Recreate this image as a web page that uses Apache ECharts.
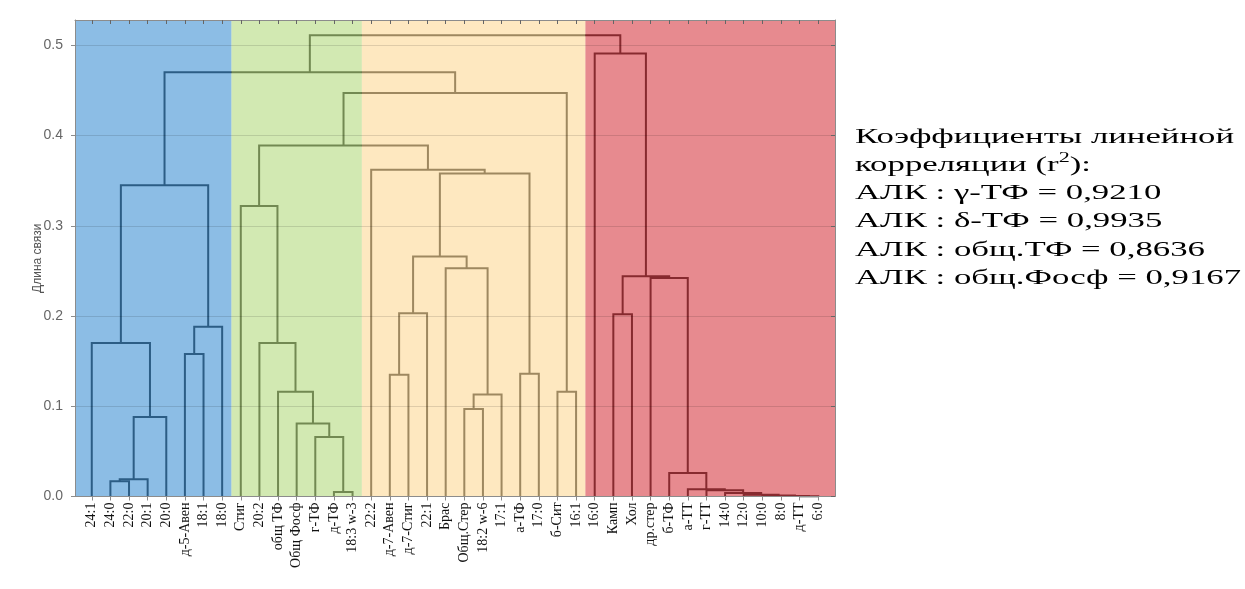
<!DOCTYPE html>
<html><head><meta charset="utf-8">
<script src="https://cdn.jsdelivr.net/npm/echarts@6/dist/echarts.min.js"></script>
<style>html,body{margin:0;padding:0;background:#fff}#c{width:1245px;height:589px}</style>
</head><body><div id="c"></div>
<script>
// ---- data ----
const leaves = ['24:1','24:0','22:0','20:1','20:0','д-5-Авен','18:1','18:0',
  'Стиг','20:2','общ ТФ','Общ Фосф','г-ТФ','д-ТФ','18:3 w-3',
  '22:2','д-7-Авен','д-7-Стиг','22:1','Брас','Общ.Стер','18:2 w-6','17:1','а-ТФ','17:0','б-Сит','16:1',
  '16:0','Камп','Хол','др.стер','б-ТФ','а-ТТ','г-ТТ','14:0','12:0','10:0','8:0','д-ТТ','6:0'];
const groupSizes = [8, 7, 12, 13];
const groupColors = ['rgb(45,135,208)', 'rgb(173,215,115)', 'rgb(253,213,140)', 'rgb(211,42,51)'];
// merge k creates node id leaves.length + k
const mergeLeft  = [13, 12, 11, 10,  9,  8,  1, 46, 47,  0,  5, 50, 49, 16, 53, 20, 55, 19, 54, 23, 58, 15, 45, 25, 62, 52, 38, 37, 36, 35, 34, 33, 32, 31, 30, 28, 75, 27, 65];
const mergeRight = [14, 40, 41, 42, 43, 44,  2,  3,  4, 48,  6,  7, 51, 17, 18, 21, 22, 56, 57, 24, 59, 60, 61, 26, 63, 64, 39, 66, 67, 68, 69, 70, 71, 72, 73, 29, 74, 76, 77];
const mergeHeight = [0.005, 0.066, 0.081, 0.116, 0.170, 0.322, 0.017, 0.019, 0.088, 0.170, 0.158, 0.188, 0.345,
  0.135, 0.203, 0.097, 0.113, 0.253, 0.266, 0.136, 0.358, 0.362, 0.389, 0.116, 0.447, 0.470,
  0.0003, 0.0005, 0.001, 0.002, 0.004, 0.007, 0.008, 0.026, 0.242, 0.202, 0.244, 0.491, 0.511];
const yTicks = [0, 0.1, 0.2, 0.3, 0.4, 0.5];
const yMax = 0.528;
const noteLines = ['Коэффициенты линейной', 'корреляции (r{sup|2}):', 'АЛК : γ-ТФ = 0,9210',
  'АЛК : δ-ТФ = 0,9935', 'АЛК : общ.ТФ = 0,8636', 'АЛК : общ.Фосф = 0,9167'];

// ---- layout of tree (midpoint convention) ----
const n = leaves.length;
const pos = leaves.map((_, i) => i);
const hgt = leaves.map(() => 0);
const links = [];
for (let k = 0; k < mergeLeft.length; k++) {
  const a = mergeLeft[k], b = mergeRight[k], h = mergeHeight[k];
  links.push([pos[a], hgt[a], pos[b], hgt[b], h]);
  pos.push((pos[a] + pos[b]) / 2);
  hgt.push(h);
}
const xMin = -0.9, xMax = n - 1 + 0.9;
const regions = [];
let acc = 0;
groupSizes.forEach((s, i) => {
  const x0 = i === 0 ? xMin : acc - 0.5;
  acc += s;
  const x1 = i === groupSizes.length - 1 ? xMax : acc - 0.5;
  regions.push([x0, x1, i]);
});
const leafIdx = leaves.map((_, i) => i);

const chart = echarts.init(document.getElementById('c'), null, {renderer: 'canvas'});
const axisGray = '#8c8c8c';
chart.setOption({
  animation: false,
  backgroundColor: '#fff',
  grid: {left: 75, right: 410, top: 20, bottom: 92.5, containLabel: false},
  xAxis: [{
    type: 'value', min: xMin, max: xMax, position: 'bottom', z: 5,
    axisLine: {show: true, onZero: false, lineStyle: {color: axisGray, width: 1}},
    axisTick: {show: true, customValues: leafIdx, length: 4, lineStyle: {color: axisGray}},
    axisLabel: {show: true, customValues: leafIdx, rotate: 90, margin: 6,
      fontFamily: 'Liberation Serif', fontSize: 14, color: '#111',
      formatter: v => leaves[Math.round(v)] || ''},
    splitLine: {show: false}
  }, {
    type: 'value', min: xMin, max: xMax, position: 'top', z: 5,
    axisLine: {show: true, onZero: false, lineStyle: {color: axisGray, width: 1}},
    axisTick: {show: true, inside: true, customValues: leafIdx, length: 4, lineStyle: {color: '#666'}},
    axisLabel: {show: false}, splitLine: {show: false}
  }],
  yAxis: [{
    type: 'value', min: 0, max: yMax, interval: 0.1, position: 'left', z: 5,
    name: 'Длина связи', nameLocation: 'middle', nameGap: 31, nameMoveOverlap: false,
    nameTextStyle: {fontFamily: 'Liberation Sans', fontSize: 12, color: '#555'},
    axisLine: {show: true, onZero: false, lineStyle: {color: axisGray, width: 1}},
    axisTick: {show: true, customValues: yTicks, length: 4, lineStyle: {color: axisGray}},
    axisLabel: {customValues: yTicks, margin: 12, fontFamily: 'Liberation Sans', fontSize: 14, color: '#666',
      formatter: v => v.toFixed(1)},
    splitLine: {show: true, lineStyle: {color: 'rgba(0,0,0,0.12)', width: 1}}
  }, {
    type: 'value', min: 0, max: yMax, interval: 0.1, position: 'right', z: 5,
    axisLine: {show: true, onZero: false, lineStyle: {color: axisGray, width: 1}},
    axisTick: {show: true, inside: true, customValues: yTicks, length: 4, lineStyle: {color: '#666'}},
    axisLabel: {show: false}, splitLine: {show: false}
  }],
  series: [{
    type: 'custom', name: 'tree', z: 2, silent: true,
    xAxisIndex: 0, yAxisIndex: 0,
    encode: {x: [0, 2], y: [1, 3, 4]},
    data: links,
    renderItem: (params, api) => {
      const x1 = api.value(0), y1 = api.value(1), x2 = api.value(2), y2 = api.value(3), h = api.value(4);
      return {type: 'polyline', shape: {points: [api.coord([x1, y1]), api.coord([x1, h]), api.coord([x2, h]), api.coord([x2, y2])]},
        style: {stroke: '#2a2a2a', lineWidth: 2, fill: null}};
    }
  }, {
    type: 'custom', name: 'groups', z: 3, silent: true,
    xAxisIndex: 0, yAxisIndex: 0,
    encode: {x: [0, 1]},
    data: regions,
    renderItem: (params, api) => {
      const a = api.coord([api.value(0), yMax]);
      const b = api.coord([api.value(1), 0]);
      return {type: 'rect', shape: {x: a[0], y: a[1], width: b[0] - a[0], height: b[1] - a[1]},
        style: {fill: groupColors[api.value(2)], opacity: 0.55}};
    }
  }],
  graphic: noteLines.map((t, i) => ({
    type: 'text', x: 855, y: 137 + i * 28.2, scaleX: 1.58,
    style: {text: t, fontFamily: 'Liberation Serif', fontSize: 22, fill: '#000',
      align: 'left', verticalAlign: 'middle', textAlign: 'left', textVerticalAlign: 'middle',
      rich: {sup: {fontSize: 14, fontFamily: 'Liberation Serif', fill: '#000', verticalAlign: 'top', padding: [0, 0, 14, 0]}}}
  }))
});
</script></body></html>
